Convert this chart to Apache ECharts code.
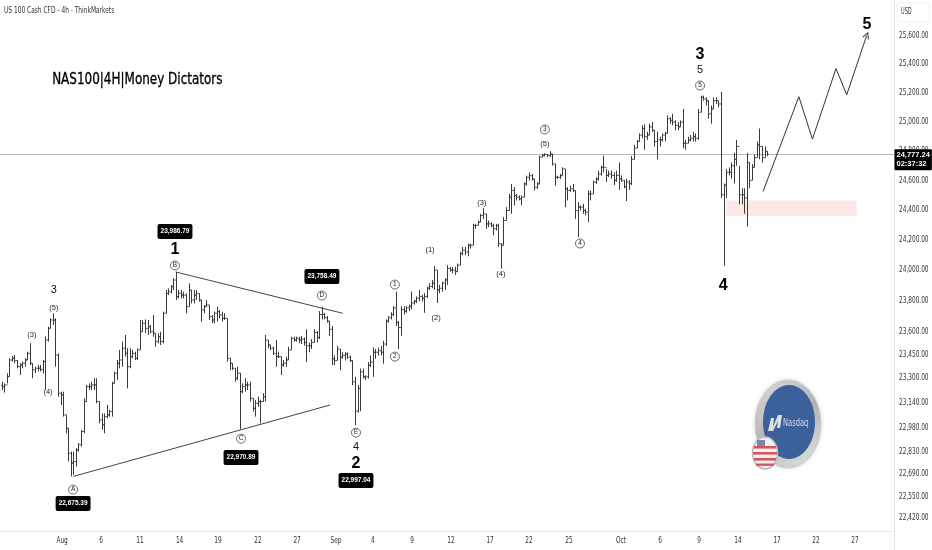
<!DOCTYPE html>
<html><head><meta charset="utf-8">
<style>html,body{margin:0;padding:0;background:#fff}#c{width:932px;height:550px}</style>
<script src="https://cdn.jsdelivr.net/npm/echarts@6/dist/echarts.min.js"></script>
</head><body><div id="c"></div>
<script>
const closes=[23242,23253,23306,23413,23424,23409,23370,23381,23392,23413,23456,23392,23349,23360,23360,23353,23403,23542,23618,23672,23672,23445,23200,23189,23062,22978,22820,22758,22768,22841,22873,22957,23147,23242,23242,23253,23253,23147,23030,22999,23051,23062,23083,23263,23328,23392,23413,23489,23456,23370,23435,23456,23424,23478,23596,23651,23618,23629,23596,23586,23532,23564,23532,23716,23846,23857,23890,23934,23824,23846,23835,23835,23759,23868,23803,23835,23846,23803,23738,23759,23770,23694,23672,23716,23727,23705,23683,23683,23424,23392,23360,23296,23328,23210,23242,23253,23253,23168,23104,23136,23147,23147,23178,23542,23510,23489,23456,23435,23435,23381,23392,23413,23478,23553,23542,23553,23542,23548,23526,23505,23505,23526,23591,23559,23708,23708,23687,23665,23612,23421,23410,23484,23431,23442,23452,23431,23410,23273,23086,23231,23337,23305,23305,23379,23400,23463,23463,23473,23463,23516,23665,23687,23708,23751,23655,23623,23740,23730,23751,23762,23783,23794,23815,23826,23815,23826,23880,23891,23913,24000,23869,23880,23913,23935,24010,24000,24000,23989,24032,24109,24131,24120,24164,24164,24296,24296,24318,24363,24374,24307,24307,24296,24274,24296,24175,24164,24329,24396,24486,24531,24497,24486,24475,24486,24575,24620,24631,24609,24553,24575,24757,24768,24775,24768,24779,24711,24620,24620,24631,24677,24542,24531,24542,24531,24396,24419,24419,24396,24385,24508,24508,24587,24609,24643,24688,24688,24633,24643,24633,24600,24633,24611,24600,24556,24589,24578,24742,24819,24864,24908,24953,24897,24908,24964,24941,24864,24875,24875,24908,24919,25020,25009,24997,24975,24964,24997,24852,24852,24875,24886,24897,24886,25065,25168,25157,25145,25054,25087,25145,25145,25122,24502,24567,24654,24654,24698,24742,24830,24502,24502,24481,24720,24600,24687,24753,24841,24830,24753,24797,24777];
const opens=[23250,23242,23253,23306,23413,23424,23409,23370,23381,23392,23413,23456,23392,23349,23360,23360,23353,23403,23542,23618,23672,23672,23445,23200,23189,23062,22978,22820,22758,22768,22841,22873,22957,23147,23242,23242,23253,23253,23147,23030,22999,23051,23062,23083,23263,23328,23392,23413,23489,23456,23370,23435,23456,23424,23478,23596,23651,23618,23629,23596,23586,23532,23564,23532,23716,23846,23857,23890,23934,23824,23846,23835,23835,23759,23868,23803,23835,23846,23803,23738,23759,23770,23694,23672,23716,23727,23705,23683,23683,23424,23392,23360,23296,23328,23210,23242,23253,23253,23168,23104,23136,23147,23147,23178,23542,23510,23489,23456,23435,23435,23381,23392,23413,23478,23553,23542,23553,23542,23548,23526,23505,23505,23526,23591,23559,23708,23708,23687,23665,23612,23421,23410,23484,23431,23442,23452,23431,23410,23273,23086,23231,23337,23305,23305,23379,23400,23463,23463,23473,23463,23516,23665,23687,23708,23751,23655,23623,23740,23730,23751,23762,23783,23794,23815,23826,23815,23826,23880,23891,23913,24000,23869,23880,23913,23935,24010,24000,24000,23989,24032,24109,24131,24120,24164,24164,24296,24296,24318,24363,24374,24307,24307,24296,24274,24296,24175,24164,24329,24396,24486,24531,24497,24486,24475,24486,24575,24620,24631,24609,24553,24575,24757,24768,24775,24768,24779,24711,24620,24620,24631,24677,24542,24531,24542,24531,24396,24419,24419,24396,24385,24508,24508,24587,24609,24643,24688,24688,24633,24643,24633,24600,24633,24611,24600,24556,24589,24578,24742,24819,24864,24908,24953,24897,24908,24964,24941,24864,24875,24875,24908,24919,25020,25009,24997,24975,24964,24997,24852,24852,24875,24886,24897,24886,25065,25168,25157,25145,25054,25087,25145,25145,25122,24502,24567,24654,24654,24698,24742,24830,24502,24502,24481,24720,24600,24687,24753,24841,24830,24753,24797];
const highs=[23274,23263,23328,23424,23439,23445,23413,23392,23403,23424,23467,23521,23392,23370,23381,23381,23413,23564,23629,23683,23716,23683,23456,23210,23210,23062,22978,22830,22830,22852,22884,22968,23168,23253,23263,23274,23296,23296,23147,23072,23072,23125,23094,23274,23339,23413,23478,23532,23575,23489,23489,23478,23467,23489,23672,23672,23676,23672,23640,23705,23586,23586,23596,23727,23868,23879,23901,23945,23987,23868,23868,23857,23846,23912,23868,23868,23868,23846,23803,23770,23803,23770,23705,23727,23759,23738,23727,23716,23683,23424,23392,23360,23370,23328,23263,23296,23274,23274,23168,23158,23178,23158,23200,23575,23542,23510,23499,23542,23467,23435,23413,23435,23499,23564,23564,23564,23564,23569,23559,23612,23526,23548,23612,23601,23730,23758,23719,23698,23665,23633,23442,23505,23484,23463,23463,23463,23442,23410,23305,23252,23358,23358,23315,23400,23442,23494,23484,23494,23505,23537,23676,23698,23723,23762,23858,23665,23762,23762,23762,23773,23858,23804,23826,23869,23837,23848,23891,23913,23935,24026,24000,23902,23924,23946,24032,24021,24021,24021,24043,24120,24153,24153,24175,24175,24307,24307,24329,24374,24414,24374,24329,24318,24307,24307,24307,24175,24352,24419,24508,24575,24553,24508,24497,24497,24587,24631,24654,24643,24609,24587,24768,24779,24784,24779,24798,24779,24711,24631,24643,24688,24677,24553,24564,24575,24531,24452,24430,24441,24408,24531,24531,24598,24620,24665,24700,24768,24676,24665,24665,24654,24665,24720,24633,24600,24611,24600,24764,24841,24875,24919,24975,24982,24930,24986,24997,24941,24930,24897,24919,24930,25042,25031,25054,25009,24997,25009,25087,24875,24897,24908,24930,24919,25087,25180,25180,25168,25145,25111,25168,25168,25145,25205,24578,24676,24687,24720,24786,24875,24698,24546,24546,24786,24720,24709,24775,24864,24953,24830,24830,24797];
const lows=[23221,23204,23263,23306,23403,23392,23360,23317,23360,23370,23413,23381,23296,23328,23339,23339,23328,23221,23532,23618,23640,23370,23178,23125,23051,22946,22768,22675,22685,22737,22830,22862,22946,23147,23221,23221,23221,23136,23009,22968,22946,23040,23051,23051,23263,23285,23360,23370,23435,23231,23360,23424,23413,23413,23478,23596,23586,23575,23586,23564,23499,23521,23510,23521,23716,23835,23846,23868,23803,23813,23813,23813,23716,23759,23781,23781,23803,23792,23661,23716,23759,23672,23651,23651,23661,23683,23661,23672,23403,23349,23349,23274,23285,22971,23200,23210,23221,23147,23083,23051,23115,23009,23147,23147,23489,23478,23445,23370,23424,23317,23370,23370,23413,23478,23532,23532,23521,23516,23505,23400,23463,23484,23526,23526,23548,23676,23676,23655,23569,23379,23379,23410,23347,23421,23410,23421,23400,23252,22997,23076,23086,23294,23284,23294,23368,23305,23421,23442,23442,23389,23505,23655,23676,23698,23633,23484,23569,23708,23719,23730,23740,23773,23783,23794,23794,23719,23815,23869,23880,23869,23783,23848,23858,23869,23902,23989,23978,23967,23989,24032,24098,24098,24091,24142,24164,24274,24296,24318,24340,24274,24285,24285,24230,24263,24153,24010,24164,24329,24396,24374,24430,24464,24464,24430,24486,24564,24598,24598,24531,24542,24575,24757,24762,24757,24757,24700,24564,24609,24609,24631,24419,24464,24520,24520,24340,24219,24396,24374,24363,24318,24464,24508,24575,24598,24631,24654,24589,24622,24611,24567,24589,24535,24589,24546,24460,24535,24567,24742,24819,24864,24886,24808,24875,24908,24930,24830,24742,24830,24864,24864,24919,24986,24975,24941,24941,24964,24819,24808,24852,24864,24864,24864,24875,25065,25145,25111,25020,24986,25087,25122,25099,24481,24028,24481,24633,24611,24578,24698,24438,24438,24375,24289,24546,24600,24687,24753,24742,24720,24753,24764];

const priceTicks=[25600,25400,25200,25000,24800,24600,24400,24200,24000,23800,23600,23450,23300,23140,22980,22830,22690,22550,22420];
const dateTickIndex=[23.6,38.8,54,69.5,84.5,100.1,115.4,130.6,145,160.3,175.5,190.8,206,221.6,241.9,257.2,272.4,287.6,302.9,318.1,333.3];
const dateTickLabels=['Aug','6','11','14','19','22','27','Sep','4','9','12','17','22','25','Oct','6','9','14','17','22','27'];

const lastPrice=24777.24;
const lastPriceTag='24,777.24\n02:37:32';
const xMax=348.56;
const lowerTrend=[[28,22675],[128.3,23125]];
const upperTrend=[[68,23987],[133.2,23716]];
const projection=[[297.4,24524],[311.4,25172],[316.7,24880],[325.9,25368],[330.1,25186],[337.9,25600]];
const demandZone=[[283,24463],[334,24358]];

const bigWaves=[[67.7,24136,'1'],[272.8,25467,'3'],[338,25678,'5'],[138.4,22755,'2'],[281.8,23898,'4']];
const smallWaves=[[20.4,23871,'3'],[272.8,25361,'5'],[138.4,22862,'4']];
const parenWaves=[[11.8,23578,'(3)'],[18.1,23210,'(4)'],[20.4,23754,'(5)'],[167.3,24136,'(1)'],[169.7,23688,'(2)'],[187.6,24450,'(3)'],[195,23977,'(4)'],[212.2,24850,'(5)']];
const circleWaves=[[27.9,22593,'A'],[67.7,24030,'B'],[93.5,22912,'C'],[125.1,23832,'D'],[138.4,22950,'E'],[153.6,23904,'1'],[153.6,23435,'2'],[212.2,24946,'3'],[225.9,24176,'4'],[272.8,25250,'5']];
const priceTags=[[67.7,24256,'23,986.79'],[27.9,22506,'22,675.39'],[93.5,22793,'22,970.89'],[125.1,23957,'23,758.49'],[138.4,22649,'22,997.04']];

const COND='"DejaVu Sans Condensed","DejaVu Sans",sans-serif';
const SANS='"Liberation Sans",Arial,sans-serif';
const fmtPrice=v=>Number(v).toLocaleString('en-US',{minimumFractionDigits:2,maximumFractionDigits:2});
const bars=closes.map((c,i)=>[i,opens[i],highs[i],lows[i],c]);
function textSeries(data,fs,w,color){return{type:'scatter',data,symbolSize:1,itemStyle:{color:'transparent',opacity:1},silent:true,z:8,
  label:{show:true,position:'inside',formatter:p=>p.data[2],fontFamily:SANS,fontSize:fs,fontWeight:w,color}}}
const chart=echarts.init(document.getElementById('c'),null,{renderer:'canvas'});
chart.setOption({
  animation:false,backgroundColor:'#fff',
  grid:{left:0,right:38,top:0,bottom:19,outerBoundsMode:'none',containLabel:false},
  xAxis:{type:'value',min:-0.65,max:xMax,splitLine:{show:false},axisTick:{show:false},
    axisLine:{show:true,onZero:false,lineStyle:{color:'#ececec'}},
    axisLabel:{customValues:dateTickIndex,margin:5,fontFamily:COND,fontSize:9.5,color:'#333',hideOverlap:false,
      formatter:v=>{const k=dateTickIndex.indexOf(v);return k>=0?dateTickLabels[k]:''}}},
  yAxis:{type:'log',position:'right',min:22337,max:25851,splitLine:{show:false},axisTick:{show:false},
    axisLine:{show:true,onZero:false,lineStyle:{color:'#e4e4e4'}},
    axisLabel:{customValues:priceTicks,margin:5,fontFamily:COND,fontSize:9.5,color:'#333',hideOverlap:false,formatter:fmtPrice}},
  series:[
    {type:'line',data:projection,symbol:'none',z:5,lineStyle:{color:'#333',width:1},silent:true,
      markArea:{silent:true,itemStyle:{color:'#fde8e8'},data:[[{coord:demandZone[0]},{coord:demandZone[1]}]]},
      markLine:{silent:true,symbol:'none',z:1,animation:false,lineStyle:{color:'#b8b8b8',width:1,type:'solid'},
        label:{show:false},data:[{yAxis:lastPrice}]}},
    {type:'custom',data:bars,z:4,silent:true,encode:{x:0,y:[1,2,3,4]},
      renderItem(params,api){
        const i=api.value(0),o=api.coord([i,api.value(1)]),h=api.coord([i,api.value(2)]),l=api.coord([i,api.value(3)]),c=api.coord([i,api.value(4)]);
        const s={stroke:'#3a3a3a',lineWidth:1,fill:null};
        const x=Math.round(h[0])+.5;
        return{type:'group',children:[
          {type:'line',shape:{x1:x,y1:h[1],x2:x,y2:l[1]},style:s},
          {type:'line',shape:{x1:x-1.3,y1:o[1],x2:x,y2:o[1]},style:s},
          {type:'line',shape:{x1:x,y1:c[1],x2:x+1.3,y2:c[1]},style:s}]};
      }},
    {type:'line',data:lowerTrend,symbol:'none',z:6,silent:true,lineStyle:{color:'#444',width:1}},
    {type:'line',data:upperTrend,symbol:'none',z:6,silent:true,lineStyle:{color:'#444',width:1}},
    {type:'scatter',data:[projection[projection.length-1]],symbol:'path://M0 10L5 0L10 10L5 0Z',symbolSize:[6,6],symbolRotate:-22,silent:true,z:6,
      itemStyle:{color:'none',borderColor:'#333',borderWidth:1,opacity:1}},
    textSeries(bigWaves,16,'bold','#000'),
    textSeries(smallWaves,11,'normal','#111'),
    textSeries(parenWaves,7.5,'normal','#222'),
    {type:'scatter',data:circleWaves,symbol:'circle',symbolSize:9,silent:true,z:8,
      itemStyle:{color:'#fff',borderColor:'#444',borderWidth:.8,opacity:1},
      label:{show:true,position:'inside',formatter:p=>p.data[2],fontFamily:SANS,fontSize:6.5,color:'#222'}},
    {type:'scatter',data:priceTags,symbolSize:1,itemStyle:{color:'transparent',opacity:1},silent:true,z:9,
      label:{show:true,position:'inside',formatter:p=>p.data[2],fontFamily:SANS,fontSize:6.5,fontWeight:'bold',color:'#fff',
        backgroundColor:'#000',borderRadius:2,padding:[4,3,4,3]}},
    {type:'scatter',data:[[xMax,lastPrice]],clip:false,symbolSize:1,itemStyle:{color:'transparent',opacity:1},silent:true,z:20,
      label:{show:true,position:[1,-4.5],align:'left',verticalAlign:'top',formatter:lastPriceTag,fontFamily:SANS,fontSize:7.5,fontWeight:'bold',color:'#fff',
        backgroundColor:'#000',borderRadius:1,padding:[1,2,1,2],lineHeight:9.5}}
  ],
  graphic:[
    {type:'text',left:4,top:6,scaleX:.69,style:{text:'US 100 Cash CFD - 4h - ThinkMarkets',font:'9.5px '+COND,fill:'#333'}},
    {type:'text',left:52,top:72,scaleX:.86,style:{text:'NAS100|4H|Money Dictators',font:'15.5px '+COND,fill:'#000',stroke:'#000',lineWidth:.3}},
    {type:'rect',shape:{x:897,y:3,width:32,height:19,r:2},style:{fill:'#fff',stroke:'#f2f2f2'}},
    {type:'text',left:901,top:7,scaleX:.62,style:{text:'USD',font:'9px '+COND,fill:'#333'}},
    {type:'line',shape:{x1:894.5,y1:531,x2:894.5,y2:550},style:{stroke:'#e8e8e8'}},
    {type:'ellipse',shape:{cx:788,cy:424,rx:33,ry:44},style:{fill:{type:'linear',x:0,y:0,x2:1,y2:1,colorStops:[{offset:0,color:'#dcdcdc'},{offset:.5,color:'#b4b4b4'},{offset:1,color:'#e8e8e8'}]},stroke:'#d0d0d0',shadowBlur:4,shadowColor:'rgba(0,0,0,.12)'}},
    {type:'ellipse',shape:{cx:789,cy:422,rx:26,ry:37},style:{fill:'#3b609c'}},
    {type:'polygon',shape:{points:[[768,431],[771,418],[774,418],[773,427],[778,415],[782,415],[780,428],[777,428],[778,421],[773,431]]},style:{fill:'#dfe3e0'}},
    {type:'text',left:783,top:418,scaleX:.68,style:{text:'Nasdaq',font:'11px '+COND,fill:'#d5dbe5'}},
    {type:'ellipse',shape:{cx:765,cy:453,rx:12.5,ry:16},style:{fill:'#f2f0f0',stroke:'#bbb',lineWidth:1.5}},
    {type:'rect',shape:{x:754,y:446,width:22,height:2.6},style:{fill:'#d4555f'}},
    {type:'rect',shape:{x:753,y:452,width:24,height:2.6},style:{fill:'#d4555f'}},
    {type:'rect',shape:{x:754,y:458,width:22,height:2.6},style:{fill:'#d4555f'}},
    {type:'rect',shape:{x:756,y:463.5,width:18,height:2.4},style:{fill:'#d4555f'}},
    {type:'rect',shape:{x:757,y:440,width:8,height:6},style:{fill:'#7c88a8'}}
  ]
});
// narrow the axis labels to the squeezed proportions of the reference
const axisTexts=new Set(priceTicks.map(fmtPrice).concat(dateTickLabels));
const zr=chart.getZr();
zr.storage.traverse(el=>{
  if(el.type==='text'&&el.style&&axisTexts.has(el.style.text)){el.scaleX=.68;el.markRedraw();}
});
zr.refreshImmediately&&zr.refreshImmediately();
</script></body></html>
